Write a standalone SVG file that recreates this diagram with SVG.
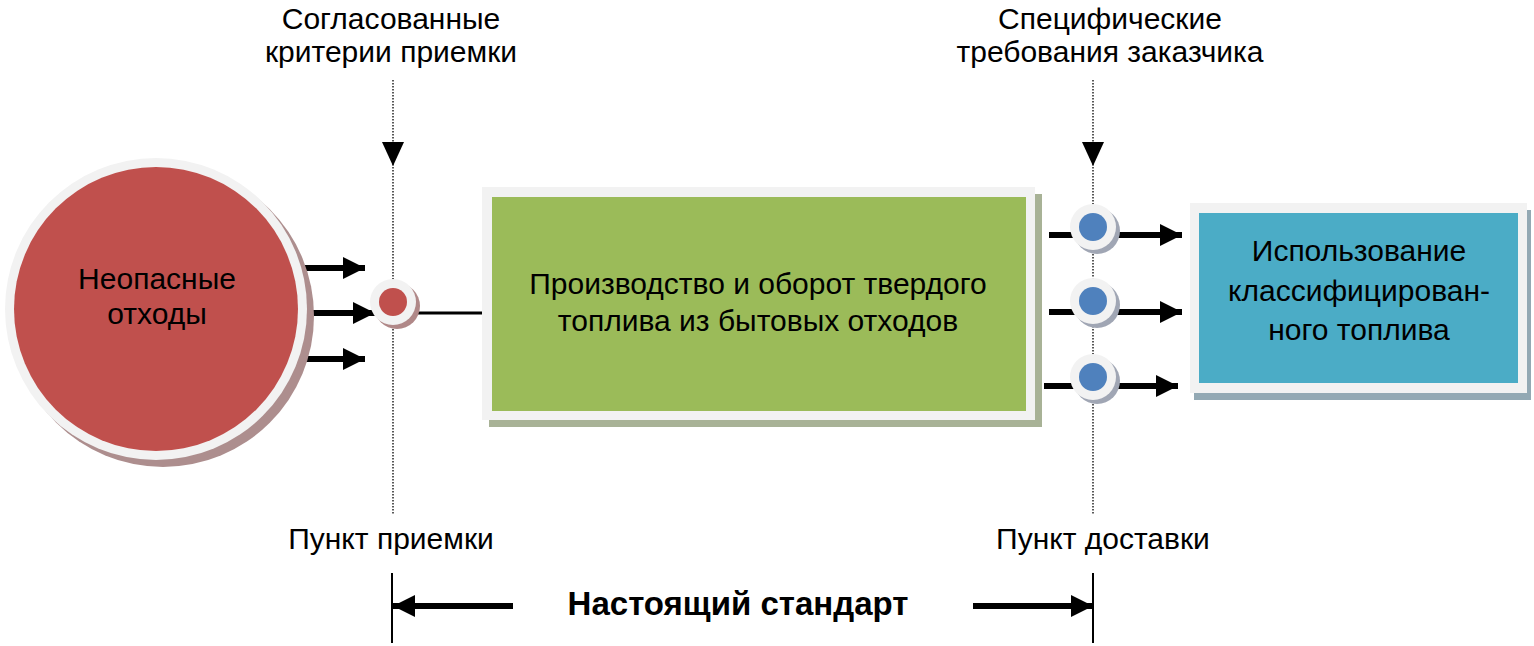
<svg xmlns="http://www.w3.org/2000/svg" width="1534" height="646" viewBox="0 0 1534 646">
<style>
text{font-family:"Liberation Sans",Arial,sans-serif;font-size:30px;fill:#000;text-anchor:middle}
.b{font-weight:bold;font-size:33px}
.dot{stroke:#000;stroke-width:1.3;stroke-dasharray:1.5 1.5;fill:none}
.thick{stroke:#000;stroke-width:6;fill:none}
.thin{stroke:#000;stroke-width:2;fill:none}
.ring{fill:#f2f2f2}
</style>
<defs>
<marker id="ah" viewBox="0 0 10 10" refX="10" refY="5" markerWidth="22" markerHeight="22" markerUnits="userSpaceOnUse" orient="auto">
<path d="M0,0 L10,5 L0,10 Z" fill="#000"/>
</marker>
</defs>
<rect width="1534" height="646" fill="#fff"/>
<g id="labels">
<text x="391" y="29">Согласованные</text>
<text x="391" y="62">критерии приемки</text>
<text x="1110" y="29">Специфические</text>
<text x="1110" y="62">требования заказчика</text>
<text x="391" y="549">Пункт приемки</text>
<text x="1103" y="549">Пункт доставки</text>
</g>
<g id="connectors">
<path class="dot" d="M393,80 V515"/>
<path class="dot" d="M1093,80 V515"/>
<path d="M382,142 L404,142 L393,166 Z" fill="#000"/>
<path d="M1082,142 L1104,142 L1093,166 Z" fill="#000"/>
<path class="thick" d="M300,268 H365" marker-end="url(#ah)"/>
<path class="thick" d="M308,313 H375" marker-end="url(#ah)"/>
<path class="thick" d="M298,359 H365" marker-end="url(#ah)"/>
<path d="M413,313 H483" stroke="#000" stroke-width="3"/>
<path class="thick" d="M1049,235 H1182" marker-end="url(#ah)"/>
<path class="thick" d="M1049,312 H1182" marker-end="url(#ah)"/>
<path class="thick" d="M1044,386 H1178" marker-end="url(#ah)"/>
<path class="thin" d="M392,573 V643"/>
<path class="thin" d="M1093,573 V643"/>
<path class="thick" d="M513,606 H393" marker-end="url(#ah)"/>
<path class="thick" d="M973,606 H1093" marker-end="url(#ah)"/>
</g>
<g id="waste">
<circle cx="163" cy="316" r="151" fill="#ad8e8e"/>
<circle cx="156" cy="309" r="151" class="ring"/>
<circle cx="156" cy="309" r="142" fill="#c0504d"/>
<text x="157" y="289">Неопасные</text>
<text x="157" y="324">отходы</text>
</g>
<g id="acceptance-point">
<circle cx="397" cy="306" r="23" fill="#b08888"/>
<circle cx="393" cy="302" r="23" class="ring"/>
<circle cx="393" cy="302" r="14" fill="#c0504d"/>
</g>
<g id="production">
<rect x="489" y="194" width="553" height="233" fill="#a8b296"/>
<rect x="482" y="187" width="553" height="233" class="ring"/>
<rect x="492" y="197" width="534" height="214" fill="#9bbb59"/>
<text x="758" y="294">Производство и оборот твердого</text>
<text x="758" y="331">топлива из бытовых отходов</text>
</g>
<g id="delivery-points">
<circle cx="1097" cy="231" r="23" fill="#a0a6b4"/>
<circle cx="1093" cy="227" r="23" class="ring"/>
<circle cx="1093" cy="227" r="14" fill="#4f81bd"/>
<circle cx="1097" cy="305" r="23" fill="#a0a6b4"/>
<circle cx="1093" cy="301" r="23" class="ring"/>
<circle cx="1093" cy="301" r="14" fill="#4f81bd"/>
<circle cx="1097" cy="381" r="23" fill="#a0a6b4"/>
<circle cx="1093" cy="377" r="23" class="ring"/>
<circle cx="1093" cy="377" r="14" fill="#4f81bd"/>
</g>
<g id="usage">
<rect x="1194" y="210" width="337" height="190" fill="#93a9b4"/>
<rect x="1190" y="203" width="337" height="190" class="ring"/>
<rect x="1199" y="213" width="319" height="170" fill="#4bacc6"/>
<text x="1359" y="261">Использование</text>
<text x="1359" y="301">классифицирован-</text>
<text x="1359" y="340">ного топлива</text>
</g>
<g id="scope">
<text class="b" x="738" y="615">Настоящий стандарт</text>
</g>
</svg>
